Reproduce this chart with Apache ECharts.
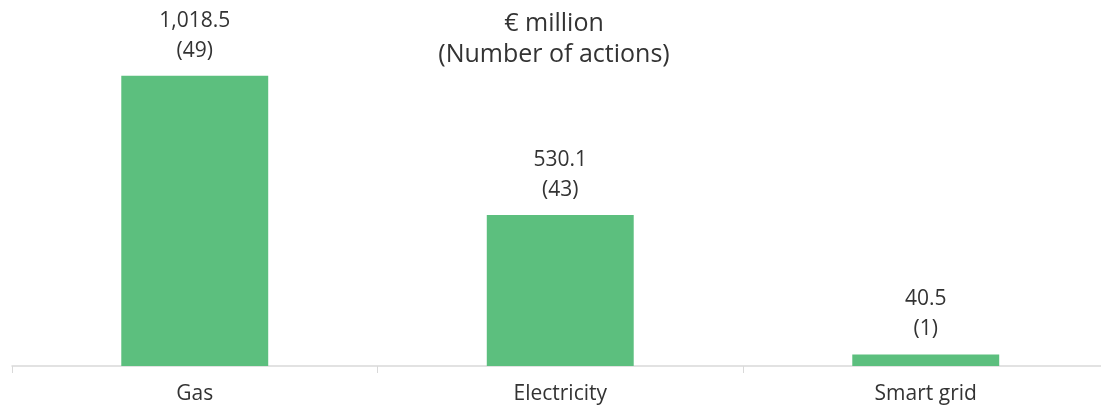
<!DOCTYPE html>
<html><head><meta charset="utf-8">
<script src="https://cdn.jsdelivr.net/npm/echarts@6/dist/echarts.min.js"></script>
<style>html,body{margin:0;padding:0;background:#fff}#c{width:1101px;height:407px}</style>
</head><body><div id="c"></div>
<script>
const categories = ['Gas', 'Electricity', 'Smart grid'];
const amounts = [1018.5, 530.1, 40.5];
const actions = [49, 43, 1];
const titleLines = ['€ million', '(Number of actions)'];

const fmt = v => v.toLocaleString('en-US', {minimumFractionDigits: 1, maximumFractionDigits: 1});
const chart = echarts.init(document.getElementById('c'));
chart.setOption({
  animation: false,
  textStyle: {fontFamily: 'Open Sans'},
  title: {
    text: titleLines.join('\n'),
    left: 549, top: 3, textAlign: 'center',
    textStyle: {fontFamily: 'Open Sans', fontSize: 25, fontWeight: 'normal', color: '#333', lineHeight: 31}
  },
  grid: {left: 12, width: 1096.5, top: 24, bottom: 41, containLabel: false, outerBoundsMode: 'none'},
  xAxis: {
    type: 'category', data: categories,
    axisLine: {lineStyle: {color: '#d9d9d9', width: 1.5}},
    axisTick: {show: true, length: 7, lineStyle: {color: '#d9d9d9'}},
    axisLabel: {fontSize: 21, color: '#333', margin: 18, fontFamily: 'Open Sans'}
  },
  yAxis: {type: 'value', min: 0, max: 1200, show: false, splitLine: {show: false}},
  series: [{
    type: 'bar', barWidth: '40.2%',
    data: amounts.map((v, i) => ({value: v, actions: actions[i]})),
    itemStyle: {color: '#5cbf7e'},
    label: {
      show: true, position: 'top', distance: 10,
      fontSize: 21, lineHeight: 30, color: '#333', fontFamily: 'Open Sans',
      formatter: p => fmt(p.value) + '\n(' + p.data.actions + ')'
    }
  }]
});
</script></body></html>
